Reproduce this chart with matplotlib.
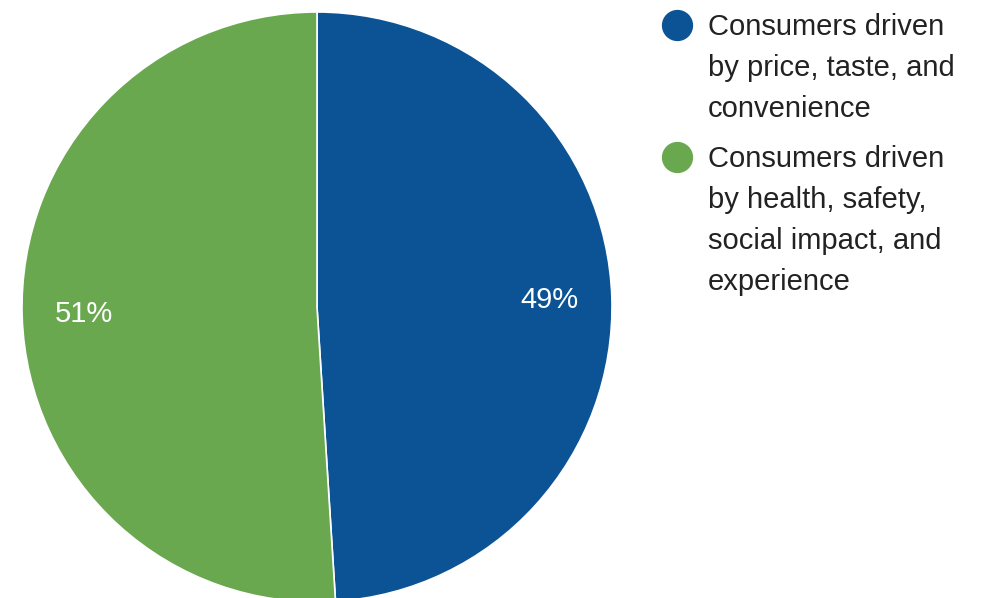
import matplotlib
matplotlib.use("Agg")
import matplotlib.pyplot as plt
from matplotlib.lines import Line2D

labels = ["Consumers driven\nby price, taste, and\nconvenience",
          "Consumers driven\nby health, safety,\nsocial impact, and\nexperience"]
values = [49, 51]
colors = ["#0b5394", "#6aa84f"]

W, H = 987, 598
fig = plt.figure(figsize=(W / 100, H / 100), dpi=100)
plt.rcParams['font.family'] = ['Liberation Sans', 'DejaVu Sans']

cx, cy, r = 317, 307, 295
ax = fig.add_axes([(cx - r) / W, (H - cy - r) / H, 2 * r / W, 2 * r / H])
wedges, texts, autotexts = ax.pie(
    values, colors=colors, startangle=90, counterclock=False,
    autopct=lambda p: f"{p:.0f}%", pctdistance=0.79,
    wedgeprops=dict(edgecolor="white", linewidth=1.2),
    textprops=dict(color="white", fontsize=21))
ax.set_xlim(-1, 1)
ax.set_ylim(-1, 1)
ax.set_aspect("equal")
ax.axis("off")

entry_y = [25, 157]
for lab, col, y in zip(labels, colors, entry_y):
    fig.add_artist(Line2D([677.5 / W], [1 - y / H], marker="o", markersize=21.5,
                          color=col, linestyle="none", transform=fig.transFigure))
    fig.text(708 / W, 1 - (y - 12) / H, lab, ha="left", va="top",
             fontsize=21, color="#222222", linespacing=1.59)

fig.savefig("out.png", dpi=100)
